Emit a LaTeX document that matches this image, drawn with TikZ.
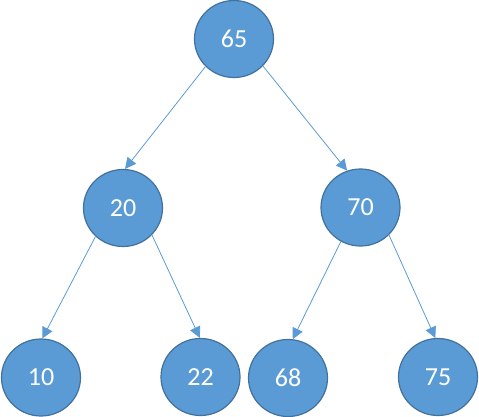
\documentclass[tikz,border=0pt]{standalone}
\usepackage{fontspec}
\setmainfont{Carlito}
\usepackage{tikz}
\usetikzlibrary{positioning, shapes.geometric, arrows.meta}
\definecolor{nodefill}{HTML}{5B9BD5}
\definecolor{nodeline}{HTML}{41719C}
\tikzset{
  keynode/.style={draw=nodeline, line width=1.2pt, fill=nodefill, ellipse, minimum width=79pt, minimum height=77pt, inner sep=0pt, text=white, font=\fontsize{26}{30}\selectfont},
  link/.style={draw=nodefill, line width=0.8pt, -{Triangle[length=11pt,width=11pt]}}
}
\begin{document}
\begin{tikzpicture}[x=1pt, y=1pt]
\useasboundingbox (0,0) rectangle (479,-417);
\node (n65) [keynode] at (234,-39) {65};
\node (n20) [keynode] at (123,-208) {20};
\node (n70) [keynode] at (360.5,-207.5) {70};
\node (n10) [keynode] at (41,-377.5) {10};
\node (n22) [keynode] at (200.5,-377) {22};
\node (n68) [keynode] at (288,-378) {68};
\node (n75) [keynode] at (438,-377) {75};

\draw[link] (n65.224) -- (n20.87);
\draw[link] (n65.317) -- (n70.110);
\draw[link] (n20.226) -- (n10.88);
\draw[link] (n20.317) -- (n22.91);
\draw[link] (n70.240) -- (n68.83);
\draw[link] (n70.316) -- (n75.94);
\end{tikzpicture}
\end{document}
